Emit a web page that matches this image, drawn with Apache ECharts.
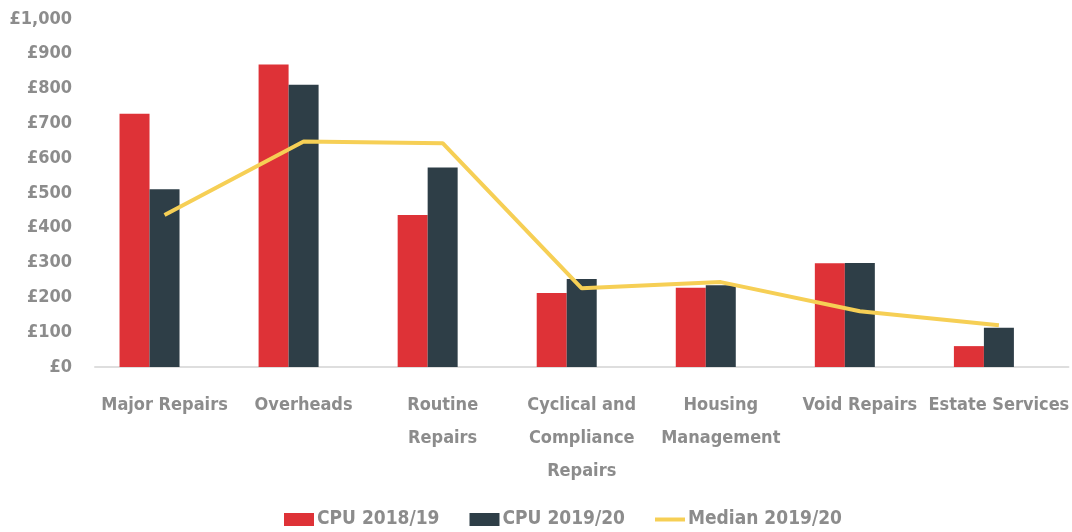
<!DOCTYPE html>
<html>
<head>
<meta charset="utf-8">
<script src="https://cdn.jsdelivr.net/npm/echarts@6/dist/echarts.min.js"></script>
<style>
  html, body { margin: 0; padding: 0; background: #fff; }
  #costChart { width: 1072px; height: 532px; }
</style>
</head>
<body>
<div id="costChart"></div>
<script>
// 分类 / categories (line breaks as in the original axis)
var categories = ['Major Repairs', 'Overheads', 'Routine\nRepairs', 'Cyclical and\nCompliance\nRepairs', 'Housing\nManagement', 'Void Repairs', 'Estate Services'];
var cpu1819 = [728, 869, 437, 213, 228, 298, 60];
var cpu1920 = [511, 811, 573, 253, 235, 299, 113];
var median1920 = [437, 648, 643, 226, 244, 160, 120];
var spacer = [null, null, null, null, null, null, null]; // empty third bar slot
var yTicks = { min: 0, max: 1000, step: 100 };

var FONT = "'DejaVu Sans Condensed', 'Liberation Sans Narrow', sans-serif";
var GREY = '#8c8c8c';

var costChart = '';
var costOpt = {
  animation: false,
  backgroundColor: '#ffffff',
  grid: { left: 95, right: 0, top: 19, bottom: 165 },
  legend: {
    top: 505,
    left: 279,
    itemGap: 30,
    itemWidth: 30,
    itemHeight: 13,
    data: [
      { name: 'CPU 2018/19', icon: 'rect' },
      { name: 'CPU 2019/20', icon: 'rect' },
      { name: 'Median 2019/20', icon: 'path://M0,0H30V4H0Z' }
    ],
    textStyle: { fontFamily: FONT, fontSize: 19, fontWeight: 'bold', color: GREY, padding: [0, 0, 0, -2] }
  },
  xAxis: {
    type: 'category',
    data: categories,
    axisLine: { show: true, lineStyle: { color: '#dedede', width: 2 } },
    axisTick: { show: false },
    axisLabel: {
      interval: 0,
      margin: 22,
      fontFamily: FONT,
      fontSize: 18,
      fontWeight: 'bold',
      lineHeight: 33,
      color: GREY
    }
  },
  yAxis: {
    type: 'value',
    min: yTicks.min,
    max: yTicks.max,
    interval: yTicks.step,
    splitLine: { show: false },
    axisLine: { show: false },
    axisTick: { show: false },
    axisLabel: {
      margin: 23,
      fontFamily: FONT,
      fontSize: 18,
      fontWeight: 'bold',
      color: GREY,
      formatter: function (v) { return '£' + v.toLocaleString('en-GB'); }
    }
  },
  series: [
    {
      name: 'CPU 2018/19',
      type: 'bar',
      barWidth: 30,
      barGap: '0%',
      itemStyle: { color: '#de3237' },
      data: cpu1819
    },
    {
      name: 'CPU 2019/20',
      type: 'bar',
      barWidth: 30,
      barGap: '0%',
      itemStyle: { color: '#2e3e47' },
      data: cpu1920
    },
    {
      name: 'spacer',
      type: 'bar',
      barWidth: 30,
      barGap: '0%',
      silent: true,
      itemStyle: { color: 'transparent' },
      data: spacer
    },
    {
      name: 'Median 2019/20',
      type: 'line',
      symbol: 'none',
      lineStyle: { color: '#f6cf55', width: 4 },
      itemStyle: { color: '#f6cf55' },
      data: median1920
    }
  ]
};

costChart = echarts.init(document.getElementById('costChart'));
costChart.setOption(costOpt);
</script>
</body>
</html>
